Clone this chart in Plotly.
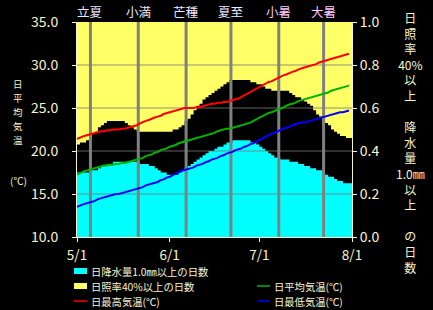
import plotly.graph_objects as go

# ---------------- data ----------------
days = list(range(92))  # 0 = 5/1 ... 91 = 7/31
tmax = [21.4,21.6,21.7,21.8,21.9,22.0,22.1,22.2,22.3,22.3,
        22.4,22.4,22.5,22.5,22.5,22.6,22.6,22.7,22.8,22.9,
        23.0,23.2,23.4,23.5,23.6,23.8,23.9,24.0,24.1,24.3,
        24.4,24.5,24.6,24.7,24.8,24.9,25.0,25.0,25.0,25.0,
        25.1,25.1,25.2,25.3,25.4,25.5,25.5,25.6,25.6,25.7,
        25.7,25.8,25.9,26.0,26.1,26.3,26.5,26.6,26.8,27.0,
        27.2,27.4,27.6,27.8,28.0,28.1,28.3,28.5,28.6,28.8,
        28.9,29.1,29.2,29.3,29.5,29.6,29.7,29.8,29.9,30.0,
        30.1,30.3,30.4,30.5,30.6,30.7,30.8,30.9,31.0,31.1,
        31.2,31.3]
tavg = [17.3,17.4,17.6,17.7,17.8,17.9,18.0,18.1,18.2,18.3,
        18.3,18.4,18.4,18.5,18.5,18.6,18.6,18.7,18.8,18.9,
        19.0,19.1,19.2,19.4,19.5,19.6,19.8,19.9,20.1,20.2,
        20.3,20.5,20.6,20.7,20.9,21.0,21.1,21.2,21.3,21.4,
        21.5,21.6,21.7,21.8,21.9,22.0,22.1,22.3,22.4,22.5,
        22.6,22.6,22.7,22.8,22.9,23.0,23.1,23.2,23.3,23.5,
        23.7,23.9,24.1,24.3,24.4,24.5,24.7,24.8,24.9,25.1,
        25.2,25.4,25.5,25.6,25.8,25.9,26.0,26.1,26.2,26.3,
        26.4,26.5,26.6,26.7,26.8,27.0,27.1,27.2,27.3,27.4,
        27.5,27.6]
tmin = [13.5,13.7,13.8,13.9,14.0,14.1,14.2,14.4,14.5,14.6,
        14.7,14.8,14.9,15.0,15.0,15.1,15.2,15.3,15.4,15.5,
        15.6,15.7,15.8,16.0,16.1,16.2,16.3,16.4,16.6,16.7,
        16.9,17.0,17.2,17.4,17.6,17.7,17.8,17.9,18.0,18.1,
        18.3,18.4,18.5,18.7,18.8,19.0,19.1,19.2,19.4,19.5,
        19.7,19.8,19.9,20.1,20.2,20.3,20.5,20.6,20.8,20.9,
        21.1,21.3,21.5,21.7,21.8,22.0,22.1,22.3,22.4,22.6,
        22.7,22.8,23.0,23.1,23.2,23.3,23.3,23.4,23.5,23.6,
        23.7,23.8,23.9,24.0,24.1,24.2,24.3,24.4,24.5,24.5,
        24.6,24.7]
rain_frac = [0.30,0.30,0.30,0.30,0.30,0.31,0.31,0.32,0.33,0.33,
             0.34,0.34,0.35,0.35,0.35,0.35,0.35,0.35,0.35,0.35,
             0.35,0.34,0.34,0.34,0.33,0.33,0.32,0.31,0.30,0.30,
             0.29,0.29,0.29,0.29,0.30,0.31,0.32,0.33,0.34,0.35,
             0.36,0.37,0.38,0.39,0.40,0.40,0.41,0.42,0.42,0.43,
             0.44,0.44,0.45,0.45,0.45,0.45,0.45,0.45,0.44,0.44,
             0.43,0.42,0.41,0.40,0.39,0.38,0.37,0.37,0.36,0.36,
             0.36,0.35,0.35,0.35,0.34,0.34,0.33,0.33,0.32,0.32,
             0.31,0.31,0.30,0.29,0.28,0.28,0.27,0.26,0.26,0.25,
             0.25,0.25]
sun_frac = [0.57,0.56,0.56,0.55,0.54,0.52,0.51,0.49,0.48,0.47,
            0.46,0.46,0.46,0.46,0.46,0.46,0.47,0.48,0.49,0.50,
            0.51,0.51,0.51,0.51,0.51,0.51,0.51,0.51,0.51,0.51,
            0.51,0.51,0.50,0.50,0.49,0.48,0.46,0.45,0.43,0.41,
            0.39,0.38,0.36,0.35,0.34,0.33,0.32,0.31,0.30,0.29,
            0.28,0.27,0.27,0.27,0.27,0.27,0.27,0.27,0.28,0.28,
            0.29,0.29,0.30,0.31,0.31,0.32,0.32,0.32,0.32,0.32,
            0.32,0.33,0.34,0.35,0.35,0.36,0.37,0.38,0.39,0.41,
            0.43,0.44,0.46,0.47,0.48,0.50,0.51,0.52,0.53,0.53,
            0.54,0.54]
x_tickvals = [0, 31, 61, 92]
x_ticktext = ["5/1", "6/1", "7/1", "8/1"]
temp_ticks = [10, 15, 20, 25, 30, 35]
frac_ticks = [0.0, 0.2, 0.4, 0.6, 0.8, 1.0]
term_names = ["立夏", "小満", "芒種", "夏至", "小暑", "大暑"]
term_days = [4, 20, 36, 51, 67, 82]
term_colors = ["#EEE8FF", "#EEE8FF", "#EEE8FF", "#EEE8FF", "#FFC8FF", "#FFC8FF"]

left_title = ["日", "平", "均", "気", "温"]
left_unit = "(℃)"
right_title = ["日", "照", "率", "40%", "以", "上", "", "降", "水", "量", "1.0㎜", "以", "上", "", "の", "日", "数"]
legend_labels = ["日降水量1.0㎜以上の日数", "日照率40%以上の日数", "日最高気温(℃)",
                 "日平均気温(℃)", "日最低気温(℃)"]

# ---------------- style ----------------
TXT = "#F8F4CC"
FONT = "Noto Sans CJK JP"
YELLOW = "#FFFF66"
CYAN = "#00FFFF"
W, H = 433, 310
L, R, T, B = 77, 81, 22, 73
PW, PH = W - L - R, H - T - B

def px(xp):
    return (xp - L) / PW

def py(yp):
    return (H - B - yp) / PH

fig = go.Figure()

x_step = days + [92]
top_line = [1.0] * len(x_step)
sun_bottom = [1 - s for s in sun_frac] + [1 - sun_frac[-1]]
rain_step = rain_frac + [rain_frac[-1]]

# yellow area (from top down)
fig.add_trace(go.Scatter(x=x_step, y=top_line, mode="lines", line=dict(width=0, shape="hv"),
                         yaxis="y", hoverinfo="skip", showlegend=False))
fig.add_trace(go.Scatter(x=x_step, y=sun_bottom, mode="lines", line=dict(width=0, shape="hv"),
                         fill="tonexty", fillcolor=YELLOW, yaxis="y", showlegend=False))
# cyan area (from bottom up)
fig.add_trace(go.Scatter(x=x_step, y=rain_step, mode="lines", line=dict(width=0, shape="hv"),
                         fill="tozeroy", fillcolor=CYAN, yaxis="y", showlegend=False))

# horizontal grid lines (over the areas)
gx, gy = [], []
for v in frac_ticks[1:-1]:
    gx += [0, 92, None]
    gy += [v, v, None]
fig.add_trace(go.Scatter(x=gx, y=gy, mode="lines", line=dict(color="rgba(120,120,120,0.55)", width=1.6),
                         yaxis="y", hoverinfo="skip", showlegend=False))

# solar-term vertical lines
vx, vy = [], []
for d in term_days:
    vx += [d + 0.5, d + 0.5, None]
    vy += [0, 1, None]
fig.add_trace(go.Scatter(x=vx, y=vy, mode="lines", line=dict(color="#808080", width=3),
                         yaxis="y", hoverinfo="skip", showlegend=False))

# temperature lines (on the overlaying axis -> drawn on top)
for vals, col in [(tmax, "#FF0000"), (tavg, "#00B400"), (tmin, "#0000FF")]:
    fig.add_trace(go.Scatter(x=days, y=vals, mode="lines", line=dict(color=col, width=2),
                             yaxis="y2", showlegend=False))

ann = []
shapes = []
# solar term labels
for name, d, c in zip(term_names, term_days, term_colors):
    ann.append(dict(x=d + 0.5, xref="x", y=py(12), yref="paper", text=name, showarrow=False,
                    font=dict(family=FONT, size=12.5, color=c), xanchor="center", yanchor="middle"))
# left vertical title (one text per character)
for i, ch in enumerate(left_title):
    ann.append(dict(x=px(18), y=py(84 + 14 * i), xref="paper", yref="paper",
                    text=ch, showarrow=False, font=dict(family=FONT, size=9.5, color=TXT),
                    xanchor="center", yanchor="middle"))
ann.append(dict(x=px(18), y=py(180), xref="paper", yref="paper",
                text=left_unit, showarrow=False, font=dict(family=FONT, size=10, color=TXT),
                xanchor="center", yanchor="middle"))
# right vertical title (one multi-line text)
ann.append(dict(x=px(410), y=py(7), xref="paper", yref="paper",
                text="<br>".join(right_title), showarrow=False,
                font=dict(family=FONT, size=12, color=TXT), align="center",
                xanchor="center", yanchor="top"))

# manual legend
legend_kinds = [("box", CYAN, 74, 271), ("box", YELLOW, 74, 286), ("line", "#FF0000", 74, 301),
                ("line", "#00B400", 257, 286), ("line", "#0000FF", 257, 301)]
for (kind, col, x0, yc), label in zip(legend_kinds, legend_labels):
    if kind == "box":
        shapes.append(dict(type="rect", xref="paper", yref="paper", x0=px(x0), x1=px(x0 + 13),
                           y0=py(yc - 3), y1=py(yc + 3), fillcolor=col, line=dict(width=0)))
    else:
        shapes.append(dict(type="line", xref="paper", yref="paper", x0=px(x0), x1=px(x0 + 13),
                           y0=py(yc), y1=py(yc), line=dict(color=col, width=1.5)))
    ann.append(dict(x=px(x0 + 15), y=py(yc), xref="paper", yref="paper", text=label,
                    showarrow=False, font=dict(family=FONT, size=10.3, color=TXT),
                    xanchor="left", yanchor="middle"))

fig.update_layout(
    width=W, height=H,
    margin=dict(l=L, r=R, t=T, b=B),
    paper_bgcolor="black", plot_bgcolor="black",
    showlegend=False,
    xaxis=dict(range=[0, 92], tickvals=x_tickvals, ticktext=x_ticktext, showgrid=False, zeroline=False,
               showline=True, linecolor=TXT, linewidth=1, ticks="outside", ticklen=4, tickcolor=TXT,
               tickfont=dict(family=FONT, size=13.5, color=TXT), ticklabelstandoff=2),
    yaxis=dict(range=[0, 1], side="right", tickvals=frac_ticks, tickformat=".1f", showgrid=False,
               zeroline=False, showline=True, linecolor=TXT, linewidth=1, ticks="outside", ticklen=4,
               tickcolor=TXT, tickfont=dict(family=FONT, size=14, color=TXT), ticklabelstandoff=0),
    yaxis2=dict(range=[10, 35], side="left", overlaying="y", tickvals=temp_ticks, tickformat=".1f",
                showgrid=False, zeroline=False, showline=True, linecolor=TXT, linewidth=1,
                ticks="outside", ticklen=4, tickcolor=TXT,
                tickfont=dict(family=FONT, size=14, color=TXT), ticklabelstandoff=11),
    annotations=ann,
    shapes=shapes,
)

fig.write_html("out.html")
